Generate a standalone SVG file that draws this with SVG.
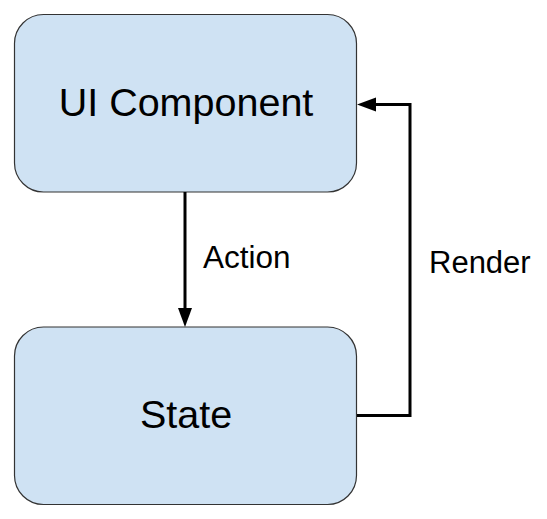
<svg xmlns="http://www.w3.org/2000/svg" width="547" height="519" viewBox="0 0 547 519">
<style>
.box{fill:#cfe2f3;stroke:#333;stroke-width:1.2}
.lbl{font-family:"Liberation Sans",Arial,sans-serif;fill:#000}
.conn{fill:none;stroke:#000;stroke-width:3}
.head{fill:#000}
</style>
<rect width="547" height="519" fill="#fff"/>
<g id="ui-component">
<rect class="box" x="14.5" y="14.5" width="342" height="177.5" rx="29" ry="29"/>
<text class="lbl" x="186" y="115.5" font-size="39.5" text-anchor="middle">UI Component</text>
</g>
<g id="state">
<rect class="box" x="14.5" y="327" width="342" height="177.5" rx="29" ry="29"/>
<text class="lbl" x="186" y="427.5" font-size="39.5" text-anchor="middle">State</text>
</g>
<g id="connectors">
<g id="action">
<line class="conn" x1="185" y1="192" x2="185" y2="310"/>
<polygon class="head" points="178,308 192,308 185,327"/>
<text class="lbl" x="203" y="268" font-size="31.5">Action</text>
</g>
<g id="render">
<polyline class="conn" points="357,415.5 410,415.5 410,104.5 374,104.5"/>
<polygon class="head" points="376,97.5 376,111.5 357,104.5"/>
<text class="lbl" x="429" y="272.5" font-size="31">Render</text>
</g>
</g>
</svg>
